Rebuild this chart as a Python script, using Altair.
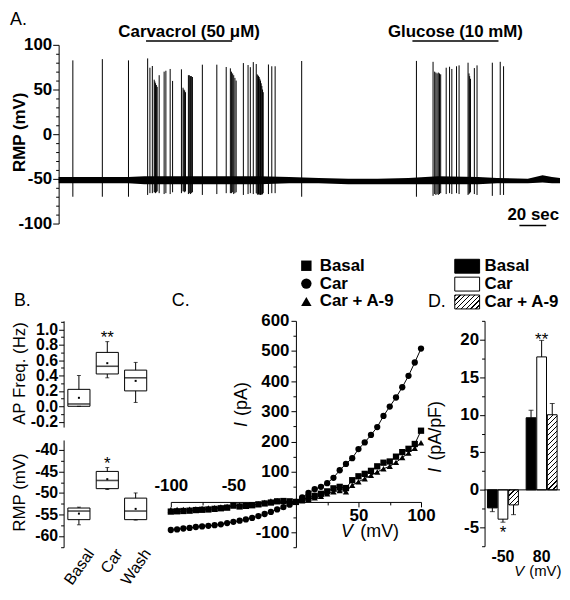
import altair as alt
import pandas as pd

FONT = "Liberation Sans"

# ---------------- Panel A: membrane potential trace ----------------
base_t = [0, 16, 31, 52, 64, 90, 120, 150, 172, 194, 216, 238, 261, 283, 313, 327, 350, 361, 368, 374]
base_lo = [-55, -55, -55, -55, -56, -56, -56, -56, -55, -55, -56, -56, -56, -56, -56, -55, -55, -54, -55, -55]
base_hi = [-48, -48, -48, -48, -47, -47, -47, -47, -48, -49, -50, -50, -49, -47, -48, -49, -50, -46, -48, -49]
spike_t = [10.6, 32.6, 52.1, 66.4, 68.1, 69.9,
           71.3, 71.8, 72.3, 72.9, 73.5,
           75.0, 78.7, 80.0, 83.2, 85.0,
           91.6,
           92.8, 93.4, 94.0, 94.6,
           96.8, 97.5, 98.3, 99.0, 99.8,
           107.2, 118.0, 125.0, 128.1,
           128.9, 129.8, 130.6, 131.5, 132.4,
           137.8, 141.3, 143.0, 145.2, 147.4,
           148.1, 148.6, 149.1, 149.6, 150.1, 150.6, 151.1, 151.6, 152.1, 152.6,
           156.5, 159.0, 161.5,
           181.3,
           266.9, 279.3,
           280.5, 281.4, 282.3, 283.2, 284.1, 285.0,
           289.1, 291.6, 293.3, 296.8, 298.7,
           305.4,
           306.1, 306.6, 307.2,
           310.1, 312.1, 323.5, 329.4, 331.9]
spike_peak = [82.6, 84, 82.6, 84.8, 74.4, 76.3,
              61, 59, 57, 55, 53,
              66, 70, 71, 73, 59.6,
              72.6,
              52, 50, 49, 47,
              66, 66, 65, 65, 64,
              77.8, 77.8, 75.2, 73.7,
              70, 68, 66, 63, 60,
              79.6, 77.4, 75, 80.7, 78.5,
              67, 66, 65, 64, 62, 60, 57, 54, 50, 47,
              78, 76, 76,
              81.9,
              82, 81,
              70, 69, 68, 69, 68, 67,
              74.4, 75.5, 73, 76, 77,
              80,
              68, 65, 62,
              74, 77, 80, 81, 76]
spike_trough = [-70, -70, -70, -68, -66, -66,
                -65, -65, -66, -65, -64,
                -66, -67, -66, -67, -65,
                -66,
                -64, -64, -65, -64,
                -67, -66, -67, -66, -65,
                -68, -67, -66, -66,
                -66, -65, -67, -66, -65,
                -68, -67, -66, -67, -66,
                -67, -68, -67, -68, -67, -68, -67, -68, -67, -66,
                -67, -66, -66,
                -70,
                -70, -69,
                -67, -68, -67, -68, -67, -66,
                -67, -66, -67, -66, -67,
                -68,
                -67, -66, -65,
                -67, -68, -69, -68, -68]
drug_label = ["Carvacrol (50 \u03bcM)", "Glucose (10 mM)"]
drug_start = [65.2, 263.9]
drug_end = [129.4, 328.1]
scale_bar = [343.7, 363.7]
scale_bar_label = "20 sec"

# ---------------- Panel B: box plots ----------------
b_conds = ["Basal", "Car", "Wash"]
ap_min = [0.0, 0.37, 0.05]
ap_q1 = [0.0, 0.42, 0.20]
ap_med = [0.03, 0.52, 0.37]
ap_q3 = [0.22, 0.70, 0.47]
ap_max = [0.40, 0.84, 0.57]
ap_mean = [0.11, 0.56, 0.33]
ap_sig = ["", "**", ""]
rmp_min = [-57.4, -49.2, -56.3]
rmp_q1 = [-56.2, -49.0, -56.2]
rmp_med = [-54.2, -47.1, -54.2]
rmp_q3 = [-53.5, -45.0, -51.2]
rmp_max = [-53.3, -44.1, -50.0]
rmp_mean = [-54.8, -46.8, -53.7]
rmp_sig = ["", "*", ""]

# ---------------- Panel C: I-V curves ----------------
iv_v = [-100, -95, -90, -85, -80, -75, -70, -65, -60, -55, -50, -45, -40, -35, -30, -25, -20, -15, -10, -5, 0,
        5, 10, 15, 20, 25, 30, 35, 40, 45, 50, 55, 60, 65, 70, 75, 80, 85, 90, 95, 100]
iv_basal = [-32, -31, -30, -29, -27, -26, -25, -23, -21, -19, -12, -15, -13, -11, -8, -5, -2, 2, 3, 2, 0,
            8, 14, 20, 27, 35, 45, 50, 46, 72, 85, 93, 103, 118, 130, 134, 150, 165, 176, 192, 236]
iv_car = [-93, -91, -88, -86, -83, -81, -79, -77, -74, -70, -66, -62, -58, -53, -47, -40, -33, -25, -17, -9, 0,
          15, 30, 42, 50, 62, 80, 105, 126, 145, 175, 197, 222, 248, 285, 316, 346, 380, 418, 462, 508]
iv_a9 = [-26, -25, -25, -24, -23, -22, -20, -19, -17, -15, -12, -11, -10, -9, -7, -2, 3, 4, 2, 1, 0,
         4, 9, 14, 19, 27, 34, 38, 34, 55, 67, 77, 88, 99, 110, 118, 131, 147, 162, 178, 196]
iv_series = ["Basal", "Car", "Car + A-9"]

# ---------------- Panel D: current density bars ----------------
d_volt = ["-50", "80"]
d_series = ["Basal", "Car", "Car + A-9"]
d_basal_mean = [-2.4, 9.6]
d_car_mean = [-3.9, 17.7]
d_a9_mean = [-2.0, 10.0]
d_basal_sem = [0.5, 1.0]
d_car_sem = [0.4, 2.2]
d_a9_sem = [1.3, 1.5]
d_car_sig = ["*", "**"]

one = pd.DataFrame({"k": [0]})


def txt(text, x, y, **kw):
    props = dict(text=text, font=FONT, color="black")
    props.update(kw)
    return alt.Chart(one).mark_text(**props).encode(x=x, y=y)


def hatch(w, h, period=3.6, line_px=1.1):
    n = max(1, round((w + h) / (2 ** 0.5 * period)))
    f = min(0.9, line_px / period)
    stops = []
    for i in range(n):
        a = i / n
        b = (i + f) / n
        c = (i + 1) / n
        stops += [{"offset": a, "color": "black"}, {"offset": b, "color": "black"},
                  {"offset": b, "color": "white"}, {"offset": c, "color": "white"}]
    k = (w + h) / (w * w + h * h)
    return {"gradient": "linear", "x1": 0, "y1": 0, "x2": k * w, "y2": k * h, "stops": stops}


# ======================= A =======================
A_W, A_H = 505, 180
xA = alt.Scale(domain=[0, 374], nice=False, zero=False)
yA = alt.Scale(domain=[-100, 100], nice=False, zero=False)
majA = "datum.value % 50 === 0"
yA_axis = alt.Axis(values=list(range(-100, 101, 10)), labelExpr=f"{majA} ? datum.label : ''",
                   tickSize={"condition": {"test": majA, "value": 6}, "value": 3},
                   title=None, labelPadding=1, labelFontSize=17)


def XA(f):
    return alt.X(f, scale=xA, axis=None)


def YA(f):
    return alt.Y(f, scale=yA, axis=yA_axis)


def XAd(v):
    return alt.XDatum(v, scale=xA, axis=None)


def YAd(v):
    return alt.YDatum(v, scale=yA, axis=yA_axis)


dfA_base = pd.DataFrame({"t": base_t, "lo": base_lo, "hi": base_hi})
dfA_spk = pd.DataFrame({"t": spike_t, "peak": spike_peak, "trough": spike_trough})
dfA_drug = pd.DataFrame({"label": drug_label, "start": drug_start, "end": drug_end})
dfA_drug["mid"] = (dfA_drug["start"] + dfA_drug["end"]) / 2
dfA_sb = pd.DataFrame({"s": [scale_bar[0]], "e": [scale_bar[1]], "lab": [scale_bar_label]})

a_band = alt.Chart(dfA_base).mark_area(color="black", opacity=1).encode(
    x=XA("t:Q"), y=YA("lo:Q"), y2="hi:Q")
a_spk = alt.Chart(dfA_spk).mark_rule(color="black", strokeWidth=1).encode(
    x=XA("t:Q"), y=YA("trough:Q"), y2="peak:Q")
a_bar = alt.Chart(dfA_drug).mark_rule(color="black", strokeWidth=1.5).encode(
    x=XA("start:Q"), x2="end:Q", y=YAd(104.4))
a_lab = alt.Chart(dfA_drug).mark_text(font=FONT, fontSize=17, fontWeight="bold", color="black",
                                      baseline="middle").encode(
    x=XA("mid:Q"), y=YAd(114.4), text="label:N")
a_sb = alt.Chart(dfA_sb).mark_rule(color="black", strokeWidth=1.5).encode(
    x=XA("s:Q"), x2="e:Q", y=YAd(-102.2))
a_sbt = alt.Chart(dfA_sb).mark_text(font=FONT, fontSize=17, fontWeight="bold", color="black",
                                    align="right", baseline="alphabetic").encode(
    x=XAd(373.3), y=YAd(-95.6), text="lab:N")
a_t1 = txt("A.", XAd(-36.3), YAd(137.8), align="left", baseline="top", fontSize=18)
a_t2 = txt("RMP (mV)", XAd(-28.9), YAd(2.2), angle=270, align="center", baseline="middle",
           fontSize=17, fontWeight="bold")
A = alt.layer(a_band, a_spk, a_bar, a_lab, a_sb, a_sbt, a_t1, a_t2).properties(width=A_W, height=A_H)

# ======================= B (two stacked box plots in one view) =======================
B_W, B_H = 88, 228
xsB = alt.Scale(domain=b_conds, paddingInner=0.22, paddingOuter=0.15)
xB_axis = alt.Axis(title=None, domain=False, ticks=False, labelAngle=-55, labelAlign="right",
                   labelBaseline="middle", labelOffset=12, labelPadding=3, labelFontSize=16,
                   labelFontWeight="normal")


def box_layers(df, ys, ticks, lab_test, fmt, extra):
    yax = alt.Axis(values=ticks, labelExpr=f"({lab_test}) ? datum.label : ''", format=fmt,
                   tickSize={"condition": {"test": lab_test, "value": 5}, "value": 3},
                   title=None, labelPadding=1, labelFontSize=16, orient="left")

    def X():
        return alt.X("cond:N", sort=b_conds, scale=xsB, axis=xB_axis)

    def Y(f):
        return alt.Y(f, scale=ys, axis=yax)

    def Yd(v):
        return alt.YDatum(v, scale=ys, axis=yax)

    base = alt.Chart(df)
    whisk = base.mark_rule(color="black", strokeWidth=1).encode(x=X(), y=Y("mn:Q"), y2="mx:Q")
    box = base.mark_bar(fill="white", stroke="black", strokeWidth=1).encode(x=X(), y=Y("q1:Q"), y2="q3:Q")
    med = base.mark_tick(color="black", thickness=1.6, size=22).encode(x=X(), y=Y("med:Q"))
    cap1 = base.mark_tick(color="black", thickness=1, size=4).encode(x=X(), y=Y("mn:Q"))
    cap2 = base.mark_tick(color="black", thickness=1, size=4).encode(x=X(), y=Y("mx:Q"))
    mean = base.mark_square(color="black", size=4, opacity=1).encode(x=X(), y=Y("mean:Q"))
    sig = base.mark_text(font=FONT, fontSize=17, color="black", baseline="alphabetic", dy=1).encode(
        x=X(), y=Y("mx:Q"), text="sig:N")
    anns = [e(Yd) for e in extra]
    return alt.layer(whisk, box, med, cap1, cap2, mean, sig, *anns)


dfB_ap = pd.DataFrame({"cond": b_conds, "mn": ap_min, "q1": ap_q1, "med": ap_med, "q3": ap_q3,
                       "mx": ap_max, "mean": ap_mean, "sig": ap_sig})
dfB_rmp = pd.DataFrame({"cond": b_conds, "mn": rmp_min, "q1": rmp_q1, "med": rmp_med, "q3": rmp_q3,
                        "mx": rmp_max, "mean": rmp_mean, "sig": rmp_sig})

ap_ticks = [round(-0.2 + 0.1 * i, 1) for i in range(14)]
rmp_ticks = [-62.5 + 2.5 * i for i in range(11)]

b_up = box_layers(
    dfB_ap, alt.Scale(domain=[-0.27, 1.11], range=[107, 0], nice=False, zero=False), ap_ticks,
    "abs(round(datum.value * 10)) % 2 === 0 && datum.value < 1.05", ".1f",
    [lambda Yd: txt("B.", alt.value(-50), Yd(1.368),
                    align="left", baseline="middle", fontSize=18),
     lambda Yd: txt("AP Freq. (Hz)", alt.value(-44), Yd(0.426),
                    angle=270, align="center", baseline="middle", fontSize=17)])
b_low = box_layers(
    dfB_rmp, alt.Scale(domain=[-62.6, -37.7], range=[228, 120], nice=False, zero=False), rmp_ticks,
    "datum.value % 5 === 0", "d",
    [lambda Yd: txt("RMP (mV)", alt.value(-44), Yd(-49.9),
                    angle=270, align="center", baseline="middle", fontSize=17)])
B = alt.layer(b_up, b_low).resolve_scale(y="independent").resolve_axis(y="independent").properties(
    width=B_W, height=B_H)

# ======================= C =======================
C_W, C_H = 252, 228
xC = alt.Scale(domain=[-100, 100], nice=False, zero=False)
yC = alt.Scale(domain=[-150, 600], nice=False, zero=False)
xC_axis = alt.Axis(values=[-100, -75, -50, -25, 25, 50, 75, 100],
                   labelExpr="datum.value % 50 === 0 ? datum.label : ''",
                   tickSize={"condition": {"test": "datum.value % 50 === 0", "value": 5}, "value": 3},
                   labelBaseline={"condition": {"test": "datum.value < 0", "value": "bottom"}, "value": "top"},
                   labelPadding={"condition": {"test": "datum.value < 0", "value": -13}, "value": 1},
                   offset=-45.6, title=None, labelFontSize=17)
yC_axis = alt.Axis(values=list(range(-150, 601, 50)),
                   labelExpr="datum.value % 100 === 0 && datum.value !== 0 ? datum.label : ''",
                   tickSize={"condition": {"test": "datum.value % 100 === 0", "value": 5}, "value": 3},
                   offset=-126, title=None, labelPadding=2, labelFontSize=17)


def XC(v):
    return alt.XDatum(v, scale=xC, axis=xC_axis)


def YC(v):
    return alt.YDatum(v, scale=yC, axis=yC_axis)


dfC = pd.DataFrame({
    "V": iv_v * 3,
    "I": iv_basal + iv_car + iv_a9,
    "series": [iv_series[0]] * len(iv_v) + [iv_series[1]] * len(iv_v) + [iv_series[2]] * len(iv_v),
})
c_line = alt.Chart(dfC).mark_line(color="black", strokeWidth=1).encode(
    x=alt.X("V:Q", scale=xC, axis=xC_axis), y=alt.Y("I:Q", scale=yC, axis=yC_axis), detail="series:N")
c_pts = alt.Chart(dfC).mark_point(filled=True, color="black", opacity=1, size=40).encode(
    x=alt.X("V:Q", scale=xC, axis=xC_axis), y=alt.Y("I:Q", scale=yC, axis=yC_axis),
    shape=alt.Shape("series:N", sort=iv_series,
                    scale=alt.Scale(domain=iv_series, range=["square", "circle", "triangle-up"]),
                    legend=alt.Legend(title=None, orient="none", legendX=241, legendY=214,
                                      direction="vertical", labelFont=FONT, labelFontSize=17,
                                      labelFontWeight="bold", labelColor="black", symbolSize=110,
                                      symbolFillColor="black", symbolStrokeColor="black",
                                      symbolStrokeWidth=0, rowPadding=0, labelOffset=5, padding=0)))

c_t1 = txt("C.", XC(-99.2), YC(665.8), align="left", baseline="middle", fontSize=18)
c_t2 = txt("I", XC(-42.9), YC(248), angle=270, align="left", baseline="middle", fontSize=18,
           fontStyle="italic")
c_t3 = txt("(pA)", XC(-42.9), YC(285), angle=270, align="left", baseline="middle", fontSize=18)
c_t4 = txt("V", XC(36), YC(-100.7), align="left", baseline="middle", fontSize=18, fontStyle="italic")
c_t5 = txt("(mV)", XC(51.5), YC(-100.7), align="left", baseline="middle", fontSize=18)
C = alt.layer(c_line, c_pts, c_t1, c_t2, c_t3, c_t4, c_t5).properties(width=C_W, height=C_H)

# ======================= D =======================
D_W, D_H = 76, 227
yD = alt.Scale(domain=[-7.5, 22.5], nice=False, zero=False)
xD = alt.Scale(domain=d_volt, paddingInner=0.2, paddingOuter=0.075)
xoD = alt.Scale(domain=d_series, paddingInner=0.08, paddingOuter=0)
stepD = D_W / (2 - 0.2 + 2 * 0.075)
bwD = stepD * 0.8
bar_w = bwD / (3 - 0.08) * 0.92
pxu = D_H / 30.0

rows = []
for s, means, sems in [("Basal", d_basal_mean, d_basal_sem), ("Car", d_car_mean, d_car_sem),
                       ("Car + A-9", d_a9_mean, d_a9_sem)]:
    for i, v in enumerate(d_volt):
        m = means[i]
        e = m + (sems[i] if m >= 0 else -sems[i])
        sig = d_car_sig[i] if s == "Car" else ""
        rows.append({"V": v, "series": s, "mean": m, "err": e, "sig": sig})
dfD = pd.DataFrame(rows)

yD_axis = alt.Axis(values=[-7.5 + 2.5 * i for i in range(13)],
                   labelExpr="datum.value % 5 === 0 ? datum.label : ''",
                   tickSize={"condition": {"test": "datum.value % 5 === 0", "value": 5}, "value": 3},
                   title=None, labelPadding=1, labelFontSize=17)
xD_axis = alt.Axis(title=None, domain=False, ticks=False, labelAngle=0, labelPadding=2, labelFontSize=16)


def XD():
    return alt.X("V:N", sort=d_volt, scale=xD, axis=xD_axis)


XO = alt.XOffset("series:N", sort=d_series, scale=xoD)


def YD(f):
    return alt.Y(f, scale=yD, axis=yD_axis)


def YDd(v):
    return alt.YDatum(v, scale=yD, axis=yD_axis)


d_bars = alt.Chart(dfD).transform_filter("datum.series !== 'Car + A-9'").mark_bar(
    stroke="black", strokeWidth=1).encode(
    x=XD(), xOffset=XO, y=YD("mean:Q"), y2=alt.Y2Datum(0),
    fill=alt.Fill("series:N", scale=alt.Scale(domain=["Basal", "Car"], range=["black", "white"]), legend=None))
d_h1 = alt.Chart(dfD).transform_filter("datum.series === 'Car + A-9' && datum.V === '-50'").mark_bar(
    stroke="black", strokeWidth=1).encode(
    x=XD(), xOffset=XO, y=YD("mean:Q"), y2=alt.Y2Datum(0),
    fill=alt.value(hatch(bar_w, abs(d_a9_mean[0]) * pxu)))
d_h2 = alt.Chart(dfD).transform_filter("datum.series === 'Car + A-9' && datum.V === '80'").mark_bar(
    stroke="black", strokeWidth=1).encode(
    x=XD(), xOffset=XO, y=YD("mean:Q"), y2=alt.Y2Datum(0),
    fill=alt.value(hatch(bar_w, abs(d_a9_mean[1]) * pxu)))
d_zero = alt.Chart(one).mark_rule(color="black", strokeWidth=1).encode(y=YDd(0))
d_err = alt.Chart(dfD).mark_rule(color="black", strokeWidth=1).encode(
    x=XD(), xOffset=XO, y=YD("mean:Q"), y2="err:Q")
d_cap = alt.Chart(dfD).mark_tick(color="black", thickness=1, size=5).encode(
    x=XD(), xOffset=XO, y=YD("err:Q"))
d_sig_up = alt.Chart(dfD).transform_filter("datum.sig !== '' && datum.mean > 0").mark_text(
    font=FONT, fontSize=17, color="black", baseline="alphabetic", dy=5).encode(
    x=XD(), xOffset=XO, y=YD("err:Q"), text="sig:N")
d_sig_dn = alt.Chart(dfD).transform_filter("datum.sig !== '' && datum.mean < 0").mark_text(
    font=FONT, fontSize=17, color="black", baseline="alphabetic", dy=16).encode(
    x=XD(), xOffset=XO, y=YD("err:Q"), text="sig:N")

legend_fills = ["black", "white", hatch(25, 14)]
legend_rows = [-55, -37, -19]
d_leg = []
for name, fill, yc in zip(d_series, legend_fills, legend_rows):
    d_leg.append(alt.Chart(one).mark_rect(stroke="black", strokeWidth=1).encode(
        x=alt.value(-30), x2=alt.value(-5), y=alt.value(yc - 7), y2=alt.value(yc + 7), fill=alt.value(fill)))
    d_leg.append(txt(name, alt.value(0), alt.value(yc), align="left", baseline="middle",
                     fontSize=17, fontWeight="bold"))

d_t1 = txt("D.", alt.value(-57), alt.value(-19), align="left", baseline="middle", fontSize=18)
d_t2 = txt("I", alt.value(-49), YDd(2.28), angle=270, align="left",
           baseline="middle", fontSize=18, fontStyle="italic")
d_t3 = txt("(pA/pF)", alt.value(-49), YDd(3.9), angle=270, align="left",
           baseline="middle", fontSize=18)
d_t4 = txt("V", alt.value(30), YDd(-10.8), align="left", baseline="middle",
           fontSize=15, fontStyle="italic")
d_t5 = txt("(mV)", alt.value(45), YDd(-10.8), align="left", baseline="middle", fontSize=15)

D = alt.layer(d_bars, d_h1, d_h2, d_zero, d_err, d_cap, d_sig_up, d_sig_dn, *d_leg,
              d_t1, d_t2, d_t3, d_t4, d_t5).properties(width=D_W, height=D_H)


# ======================= layout =======================
def spacer(w):
    return alt.Chart(one).mark_point(opacity=0).encode(
        x=alt.X("k:Q", axis=None), y=alt.Y("k:Q", axis=None)).properties(width=w, height=10)


row = alt.hconcat(spacer(5), B, spacer(20), C, spacer(64), D, spacing=0, bounds="flush")

chart = alt.vconcat(A, row, spacing=98, bounds="flush").properties(
    padding={"left": 1, "top": 0, "right": 0, "bottom": 0}, background="white"
).configure(
    locale={"number": {"decimal": ".", "thousands": ",", "grouping": [3], "currency": ["$", ""], "minus": "-"}}
).configure_view(stroke=None).configure_axis(
    labelFont=FONT, labelFontWeight="bold", labelColor="black", domainColor="black", tickColor="black",
    domainWidth=1, tickWidth=1, grid=False, labelFlush=False, labelOverlap=False
).configure_text(font=FONT, color="black")

chart.save("out.html", embed_options={"renderer": "svg", "actions": False})
